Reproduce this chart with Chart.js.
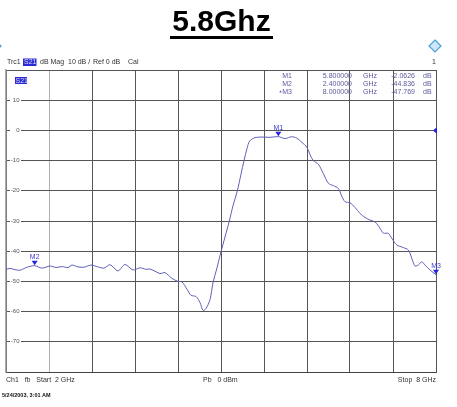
<!DOCTYPE html>
<html>
<head>
  <title>5.8Ghz S21</title>
  <script src="https://cdn.jsdelivr.net/npm/chart.js"></script>
  <style>
    html, body { margin: 0; padding: 0; background: #fff; }
    #wrap { width: 457px; height: 407px; position: relative; }
  </style>
</head>
<body>
  <div id="wrap"><canvas id="vna"></canvas></div>

  <script>
    // trace (GHz / dB)
    const freq = [2.000, 2.056, 2.126, 2.195, 2.293, 2.400, 2.502, 2.614, 2.698, 2.781,
      2.865, 2.921, 3.005, 3.088, 3.186, 3.284, 3.367, 3.451, 3.563, 3.660,
      3.772, 3.870, 3.953, 4.009, 4.093, 4.149, 4.219, 4.316, 4.400, 4.456,
      4.526, 4.581, 4.651, 4.707, 4.749, 4.791, 4.847, 4.888, 4.944, 5.000,
      5.056, 5.116, 5.167, 5.228, 5.279, 5.321, 5.363, 5.400, 5.474, 5.572,
      5.684, 5.800, 5.893, 5.986, 6.060, 6.130, 6.200, 6.242, 6.288, 6.358,
      6.428, 6.498, 6.567, 6.637, 6.684, 6.730, 6.800, 6.870, 6.940, 7.009,
      7.079, 7.149, 7.219, 7.265, 7.334, 7.382, 7.452, 7.544, 7.614, 7.661,
      7.707, 7.753, 7.800, 7.847, 7.916, 8.000];
    const magDb = [-46.0, -45.7, -46.1, -46.3, -45.3, -44.8, -45.6, -44.9, -45.4, -45.1,
      -45.4, -44.6, -45.2, -45.3, -44.6, -45.2, -45.6, -44.5, -46.5, -44.4,
      -46.2, -45.5, -46.0, -45.9, -46.8, -47.4, -47.1, -49.0, -50.0, -50.2,
      -52.6, -54.6, -55.0, -57.0, -59.6, -59.0, -56.0, -50.5, -45.5, -40.2,
      -35.3, -30.0, -25.0, -20.0, -14.5, -10.0, -6.0, -3.5, -2.4, -2.2,
      -2.3, -2.06, -2.7, -2.1, -2.6, -4.0, -5.6, -8.0, -10.0, -11.2,
      -14.3, -17.5, -18.3, -19.2, -21.7, -23.6, -24.0, -25.5, -27.5, -28.8,
      -29.7, -30.3, -32.4, -34.0, -34.1, -35.7, -37.9, -38.8, -39.6, -42.3,
      -44.9, -44.6, -43.5, -44.6, -46.2, -47.77];

    const yTicks = [20, 10, 0, -10, -20, -30, -40, -50, -60, -70, -80];
    const yTickLabels = ['', '10', '0', '-10', '-20', '-30', '-40', '-50', '-60', '-70', ''];

    const markerNames = ['M1', 'M2', 'M3'];
    const markerFreq = [5.8, 2.4, 8.0];
    const markerMag = [-2.0626, -44.836, -47.769];
    const markerFreqText = ['5.800000', '2.400000', '8.000000'];
    const markerMagText = ['-2.0626', '-44.836', '-47.769'];

    const FONT = '"Liberation Sans", Arial, sans-serif';

    const overlay = {
      id: 'overlay',
      beforeDatasetsDraw(chart) {
        const c = chart.ctx, y = chart.scales.y, a = chart.chartArea;
        c.save();
        c.font = '6px ' + FONT;
        c.textAlign = 'right';
        c.textBaseline = 'middle';
        yTicks.forEach((v, i) => {
          if (!yTickLabels[i]) return;
          const py = y.getPixelForValue(v);
          c.fillStyle = '#fff';
          c.fillRect(a.left + 4, py - 3, 11, 6);
          c.fillStyle = '#555';
          c.fillText(yTickLabels[i], a.left + 13.5, py);
        });

        // S21 tag in plot
        c.fillStyle = '#2b2bd6';
        c.fillRect(15, 77, 12, 7);
        c.fillStyle = '#dde';
        c.font = '7px ' + FONT;
        c.textAlign = 'left';
        c.fillText('S21', 15.5, 80.8);

        // marker table
        c.fillStyle = '#5a5a9c';
        c.font = '7px ' + FONT;
        markerNames.forEach((m, i) => {
          const ty = 76.5 + i * 7.6;
          c.textAlign = 'right';
          c.fillText(m, 292, ty);
          c.fillText(markerFreqText[i], 352, ty);
          c.fillText(markerMagText[i], 415, ty);
          c.textAlign = 'left';
          c.fillText('GHz', 363, ty);
          c.fillText('dB', 423, ty);
        });
        c.beginPath();
        c.arc(280.5, 91.7, 0.9, 0, Math.PI * 2);
        c.fill();
        c.restore();
      },
      afterDraw(chart) {
        const c = chart.ctx, x = chart.scales.x, y = chart.scales.y, a = chart.chartArea;
        c.save();
        // markers
        markerNames.forEach((m, i) => {
          const px = x.getPixelForValue(markerFreq[i]);
          const py = y.getPixelForValue(markerMag[i]) - 0.5;
          c.fillStyle = '#2424e0';
          c.beginPath();
          c.moveTo(px, py);
          c.lineTo(px - 3, py - 4.5);
          c.lineTo(px + 3, py - 4.5);
          c.closePath();
          c.fill();
          c.fillStyle = '#3a3ad0';
          c.font = '7px ' + FONT;
          c.textAlign = 'center';
          c.textBaseline = 'bottom';
          c.fillText(m, px, py - 5);
        });
        // reference level arrow
        const ry = y.getPixelForValue(0);
        c.fillStyle = '#2424e0';
        c.beginPath();
        c.moveTo(a.right - 3, ry);
        c.lineTo(a.right + 1, ry - 3.5);
        c.lineTo(a.right + 1, ry + 3.5);
        c.closePath();
        c.fill();

        // title
        c.fillStyle = '#000';
        c.font = 'bold 30px ' + FONT;
        c.textAlign = 'center';
        c.textBaseline = 'alphabetic';
        c.fillText('5.8Ghz', 221.5, 31);
        c.fillRect(170, 36, 103, 3);

        // header line
        c.font = '7px ' + FONT;
        c.textAlign = 'left';
        c.textBaseline = 'middle';
        c.fillStyle = '#333';
        c.fillText('Trc1', 7, 62.5);
        c.fillStyle = '#2b2bd6';
        c.fillRect(23, 58.5, 13.5, 7.5);
        c.fillStyle = '#dde';
        c.fillText('S21', 24, 62.5);
        c.fillStyle = '#333';
        c.fillText('dB Mag', 40, 62.5);
        c.fillText('10 dB /', 68, 62.5);
        c.fillText('Ref 0 dB', 93, 62.5);
        c.fillText('Cal', 128, 62.5);
        c.textAlign = 'right';
        c.fillText('1', a.right, 62.5);

        // footer
        c.textAlign = 'left';
        c.fillText('Ch1   fb   Start  2 GHz', 6, 380);
        c.fillText('Pb   0 dBm', 203, 380);
        c.textAlign = 'right';
        c.fillText('Stop  8 GHz', a.right, 380);
        c.textAlign = 'left';
        c.fillStyle = '#111';
        c.font = 'bold 5.5px ' + FONT;
        c.fillText('5/24/2003, 3:01 AM', 2, 395.5);

        // logo
        c.strokeStyle = '#4aa0d8';
        c.fillStyle = '#cfe6f5';
        c.lineWidth = 1.2;
        c.beginPath();
        c.moveTo(435, 40);
        c.lineTo(441, 46);
        c.lineTo(435, 52);
        c.lineTo(429, 46);
        c.closePath();
        c.fill();
        c.stroke();
        c.fillStyle = '#4aa0d8';
        c.beginPath();
        c.arc(0, 46, 1.5, 0, Math.PI * 2);
        c.fill();
        c.restore();
      }
    };

    const chart = new Chart(document.getElementById('vna'), {
      type: 'line',
      data: {
        datasets: [{
          label: 'S21',
          data: freq.map((f, i) => ({ x: f, y: magDb[i] })),
          borderColor: '#5f5fb8',
          borderWidth: 1,
          pointRadius: 0,
          tension: 0.3,
          fill: false
        }]
      },
      options: {
        responsive: true,
        maintainAspectRatio: false,
        animation: false,
        events: [],
        layout: { padding: { left: 6, top: 70, right: 21, bottom: 35 } },
        plugins: { legend: { display: false }, tooltip: { enabled: false } },
        scales: {
          x: {
            type: 'linear',
            min: 2,
            max: 8,
            ticks: { display: false, stepSize: 0.6 },
            grid: {
              drawTicks: false,
              color: ctx => ctx.index === 1 ? '#b0b0b0' : '#555'
            },
            border: { color: '#444' }
          },
          y: {
            min: -80,
            max: 20,
            afterBuildTicks: s => { s.ticks = yTicks.map(v => ({ value: v })); },
            ticks: { display: false },
            grid: { drawTicks: false, color: '#555' },
            border: { color: '#aaa', width: 1.5 }
          }
        }
      },
      plugins: [overlay]
    });
  </script>
</body>
</html>
